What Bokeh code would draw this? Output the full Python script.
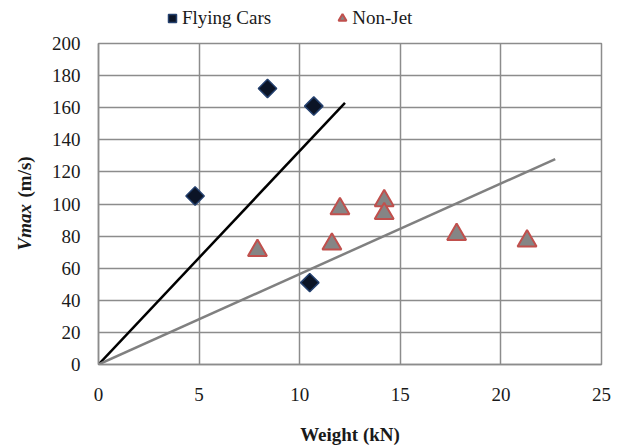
import math
from bokeh.plotting import figure
from bokeh.layouts import row, column
from bokeh.models import Range1d, FixedTicker, Legend, LegendItem, Label
from bokeh.embed import file_html
from bokeh.resources import INLINE

# Data
flying_weight = [4.8, 8.4, 10.7, 10.5]
flying_vmax = [105, 172, 161, 51]

nonjet_weight = [7.9, 12.0, 14.2, 14.2, 11.6, 17.8, 21.3]
nonjet_vmax = [71, 97, 102, 94, 75, 81, 77]

fit_flying_x = [0, 12.25]
fit_flying_y = [0, 163]
fit_nonjet_x = [0, 22.7]
fit_nonjet_y = [0, 128]

x_ticks = [0, 5, 10, 15, 20, 25]
y_ticks = [0, 20, 40, 60, 80, 100, 120, 140, 160, 180, 200]

FONT = "Liberation Serif"
GRID = "#8c8c8c"
TXT = "#1a1a1a"
W, H = 622, 447
LEG_H = 30      # height of the legend strip on top
LAB_W = 40      # width of the y-title strip on the left
TOP, BOTTOM = 13, 83

FLY_STYLE = dict(marker="square", angle=math.pi / 4, fill_color="#0b1426",
                 line_color="#24406e", line_width=1.5)
NON_STYLE = dict(marker="triangle", fill_color="#858585", line_color="#c0504d", line_width=2)


def bare(width, height, **kw):
    f = figure(width=width, height=height, output_backend="svg", toolbar_location=None,
               x_range=Range1d(0, 1), y_range=Range1d(0, 1),
               x_axis_location=None, y_axis_location=None, **kw)
    f.outline_line_color = None
    f.grid.visible = False
    return f


# legend strip: proxy renderers carry the first data point, which falls outside this
# strip's 0..1 ranges, so only their legend swatches are seen
leg = bare(W, LEG_H, min_border=0)
proxy_fly = leg.scatter(flying_weight[:1], flying_vmax[:1], size=8, **FLY_STYLE)
proxy_non = leg.scatter(nonjet_weight[:1], nonjet_vmax[:1], size=8, **NON_STYLE)
legend = Legend(items=[LegendItem(label="Flying Cars", renderers=[proxy_fly]),
                       LegendItem(label="Non-Jet", renderers=[proxy_non])],
                location=(162, 1), orientation="horizontal",
                label_text_font=FONT, label_text_font_size="19px", label_text_color=TXT,
                glyph_width=20, glyph_height=20, label_standoff=0, spacing=61,
                padding=2, margin=0, border_line_color=None, background_fill_alpha=0)
leg.add_layout(legend, "center")

# y-title strip (italic "Vmax" + upright "(m/s)")
lab = bare(LAB_W, H - LEG_H, min_border_left=0, min_border_right=0,
           min_border_top=TOP, min_border_bottom=BOTTOM)
lab.add_layout(Label(x=24, y=114, x_units="screen", y_units="screen", text="Vmax",
                     angle=math.pi / 2,
                     text_font=FONT, text_font_style="bold italic", text_font_size="19px",
                     text_align="left", text_baseline="middle", text_color=TXT))
lab.add_layout(Label(x=24, y=167, x_units="screen", y_units="screen", text="(m/s)",
                     angle=math.pi / 2,
                     text_font=FONT, text_font_style="bold", text_font_size="19px",
                     text_align="left", text_baseline="middle", text_color=TXT))

# main chart
p = figure(width=W - LAB_W, height=H - LEG_H, output_backend="svg", toolbar_location=None,
           x_range=Range1d(0, 25), y_range=Range1d(0, 200),
           min_border_left=98 - LAB_W, min_border_right=21,
           min_border_top=TOP, min_border_bottom=BOTTOM)

p.outline_line_color = GRID
p.outline_line_width = 1.5

for ax in (p.xaxis[0], p.yaxis[0]):
    ax.axis_line_color = GRID
    ax.axis_line_width = 1.5
    ax.major_tick_line_color = None
    ax.minor_tick_line_color = None
    ax.major_label_text_font = FONT
    ax.major_label_text_font_size = "19px"
    ax.major_label_text_color = TXT

p.xaxis.ticker = FixedTicker(ticks=x_ticks)
p.yaxis.ticker = FixedTicker(ticks=y_ticks)
p.xaxis.major_label_standoff = 17
p.yaxis.major_label_standoff = 12

p.xaxis.axis_label = "Weight (kN)"
p.xaxis.axis_label_text_font = FONT
p.xaxis.axis_label_text_font_style = "bold"
p.xaxis.axis_label_text_font_size = "19px"
p.xaxis.axis_label_text_color = TXT
p.xaxis.axis_label_standoff = 20

p.xgrid.ticker = FixedTicker(ticks=x_ticks)
p.ygrid.ticker = FixedTicker(ticks=y_ticks)
for g in (p.xgrid[0], p.ygrid[0]):
    g.grid_line_color = GRID
    g.grid_line_width = 1.5

p.line(fit_flying_x, fit_flying_y, line_color="black", line_width=2.5)
p.line(fit_nonjet_x, fit_nonjet_y, line_color="#808080", line_width=2.5)

p.scatter(flying_weight, flying_vmax, size=13, **FLY_STYLE)
p.scatter(nonjet_weight, nonjet_vmax, size=19, **NON_STYLE)

layout = column(leg, row(lab, p, spacing=0), spacing=0)

open("out.html", "w").write(file_html(layout, INLINE))
